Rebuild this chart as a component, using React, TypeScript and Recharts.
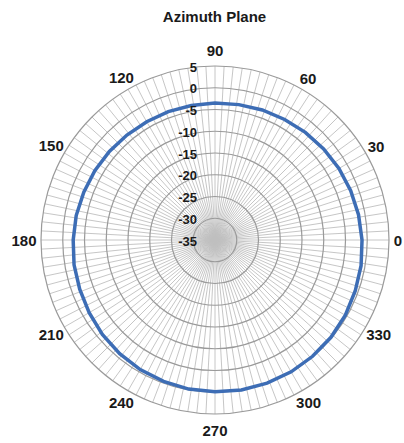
import React from 'react';
import { RadarChart, Radar, PolarGrid, PolarAngleAxis, PolarRadiusAxis } from 'recharts';

// ---- data ----
const ANGLES = [0, 10, 20, 30, 40, 50, 60, 70, 80, 90, 100, 110, 120, 130, 140, 150, 160, 170,
  180, 190, 200, 210, 220, 230, 240, 250, 260, 270, 280, 290, 300, 310, 320, 330, 340, 350];
const GAIN = [-1.2, -1.5, -1.8, -2.1, -2.4, -2.7, -3.0, -3.2, -3.4, -3.5, -3.6, -3.6, -3.6, -3.5, -3.3, -3.1, -2.9, -2.6,
  -2.4, -2.1, -1.9, -1.6, -1.2, -0.9, -0.6, -0.4, -0.2, -0.1, 0.0, 0.0, 0.0, -0.1, -0.2, -0.4, -0.7, -0.9];
const ANGLE_TICKS = [0, 30, 60, 90, 120, 150, 180, 210, 240, 270, 300, 330];
const RADIUS_TICKS = [-35, -30, -25, -20, -15, -10, -5, 0, 5];
const SPOKE_STEP = 3;
const TITLE = 'Azimuth Plane';

const data = ANGLES.map((a, i) => ({ angle: a, gain: GAIN[i] }));
const spokeAngles = Array.from({ length: 360 / SPOKE_STEP }, (_, i) => i * SPOKE_STEP);

// ---- layout ----
const W = 404;
const H = 443;
const CX = 215;
const CY = 240;
const R = 174;
const FONT = '"Liberation Sans", Arial, sans-serif';

const AngleTick = (props: any) => {
  const v = Number(props.payload?.value ?? 0);
  const rad = (v * Math.PI) / 180;
  const c = Math.cos(rad);
  const s = Math.sin(rad);
  const len = String(v).length;
  const r = 183 + (len - 1) * 4 * c * c + 7 * Math.pow(s * s, 4);
  const x = CX + r * c;
  const y = CY - r * s;
  return (
    <text x={x} y={y} textAnchor="middle" dominantBaseline="central"
      fontFamily={FONT} fontSize={15} fontWeight="bold" fill="#1a1a1a">
      {v}
    </text>
  );
};

const RadiusTick = (props: any) => {
  const { x, y, payload } = props;
  return (
    <text x={x - 18} y={y + 1} textAnchor="end" dominantBaseline="central"
      fontFamily={FONT} fontSize={13} fontWeight="bold" fill="#1a1a1a">
      {payload.value}
    </text>
  );
};

export default function App() {
  return (
    <div style={{ position: 'fixed', left: 0, top: 0, width: W, height: H, background: '#fff' }}>
      <div style={{
        position: 'absolute', left: 0, top: 8, width: 429, textAlign: 'center',
        fontFamily: FONT, fontSize: 15, fontWeight: 'bold', color: '#1a1a1a', lineHeight: '18px',
      }}>{TITLE}</div>
      <RadarChart width={W} height={H} cx={CX} cy={CY} outerRadius={R} innerRadius={0}
        startAngle={0} endAngle={360} data={data}
        margin={{ top: 0, right: 0, bottom: 0, left: 0 }}>
        <PolarGrid gridType="circle" polarAngles={spokeAngles} polarRadius={[]}
          stroke="#c0c0c0" strokeWidth={0.9} />
        <PolarGrid gridType="circle" radialLines={false} stroke="#9a9a9a" strokeWidth={1.2} />
        <PolarAngleAxis dataKey="angle" type="number" domain={[0, 360]} ticks={ANGLE_TICKS}
          axisLine={false} tickLine={false} tick={<AngleTick />} />
        <PolarRadiusAxis angle={90} type="number" domain={[-35, 5]} ticks={RADIUS_TICKS}
          tickCount={9} axisLine={false} tickLine={false} tick={<RadiusTick />} />
        <Radar dataKey="gain" stroke="#3d6db5" strokeWidth={3.5} fill="none" fillOpacity={0}
          dot={false} isAnimationActive={false} />
      </RadarChart>
    </div>
  );
}
